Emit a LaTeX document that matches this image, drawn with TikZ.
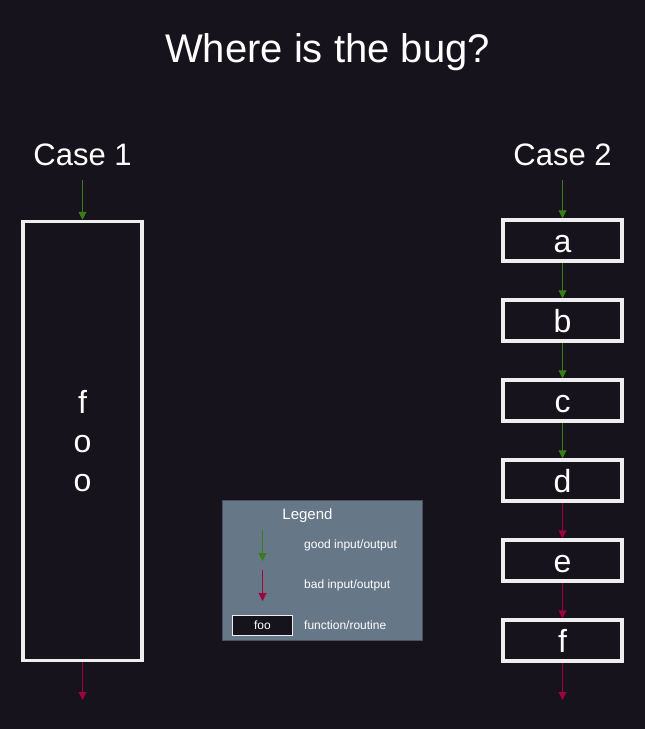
\documentclass[tikz,border=0pt]{standalone}
\usepackage{fontspec}
\setmainfont{Liberation Sans}
\usetikzlibrary{arrows.meta}
\definecolor{bgdark}{HTML}{16131C}
\definecolor{boxline}{HTML}{EEEEEE}
\definecolor{goodio}{HTML}{3A7D18}
\definecolor{badio}{HTML}{A0003C}
\definecolor{legendfill}{HTML}{667788}
\definecolor{legendline}{HTML}{4A525E}
\tikzset{
  routine/.style={draw=boxline, line width=3.5pt, fill=bgdark, text=white,
    minimum width=119pt, minimum height=41pt, inner sep=0pt,
    font=\fontsize{32}{39}\selectfont},
  steplabel/.style={text height=23pt, text depth=0pt},
  goodarrow/.style={draw=goodio, line width=1pt, -{Triangle[width=8pt,length=8pt]}},
  badarrow/.style={draw=badio, line width=1pt, -{Triangle[width=8pt,length=8pt]}},
  heading/.style={text=white, font=\fontsize{31}{36}\selectfont},
  legendtext/.style={text=white, font=\fontsize{12}{14}\selectfont, anchor=west, inner sep=0pt}
}
\begin{document}
\begin{tikzpicture}[x=1pt, y=-1pt]
  \useasboundingbox (0,0) rectangle (645,729);
  \fill[bgdark] (0,0) rectangle (645,729);
  \node[text=white, font=\fontsize{40}{46}\selectfont] (title) at (327.5,52) {Where is the bug?};
  % case 1
  \node[heading] (case1) at (82.5,155) {Case 1};
  \node[routine, minimum height=439pt, align=center] (foo) at (82.5,441) {f\\o\\o};
  \coordinate (in1) at (82.5,180);
  \coordinate (out1) at (82.5,700);
  \draw[goodarrow] (in1) -- (foo.north);
  \draw[badarrow] (foo.south) -- (out1);
  % case 2
  \node[heading] (case2) at (562.5,155) {Case 2};
  \foreach \name [count=\i from 0] in {a,b,c,d,e,f}
    \node[routine, steplabel] (\name) at (562.5,240.5+80*\i) {\name};
  \coordinate (in2) at (562.5,180);
  \coordinate (out2) at (562.5,700);
  \draw[goodarrow] (in2) -- (a.north);
  \draw[goodarrow] (a.south) -- (b.north);
  \draw[goodarrow] (b.south) -- (c.north);
  \draw[goodarrow] (c.south) -- (d.north);
  \draw[badarrow] (d.south) -- (e.north);
  \draw[badarrow] (e.south) -- (f.north);
  \draw[badarrow] (f.south) -- (out2);
  % legend
  \node[draw=legendline, fill=legendfill, line width=1pt, minimum width=200pt,
    minimum height=140pt, inner sep=0pt] (legend) at (322.5,570.5) {};
  \node[text=white, font=\fontsize{15}{18}\selectfont] (legendtitle) at (307.5,516) {Legend};
  \coordinate (goodtop) at (262.5,530);
  \coordinate (goodend) at (262.5,561);
  \coordinate (badtop) at (262.5,570);
  \coordinate (badend) at (262.5,601);
  \draw[goodarrow] (goodtop) -- (goodend);
  \draw[badarrow] (badtop) -- (badend);
  \node[draw=boxline, fill=bgdark, text=white, line width=1pt, minimum width=60pt,
    minimum height=20pt, inner sep=0pt, font=\fontsize{12}{14}\selectfont] (foobox) at (262.5,625.5) {foo};
  \node[legendtext] (goodlabel) at (304,545) {good input/output};
  \node[legendtext] (badlabel) at (304,585) {bad input/output};
  \node[legendtext] (routinelabel) at (304,625) {function/routine};
\end{tikzpicture}
\end{document}
